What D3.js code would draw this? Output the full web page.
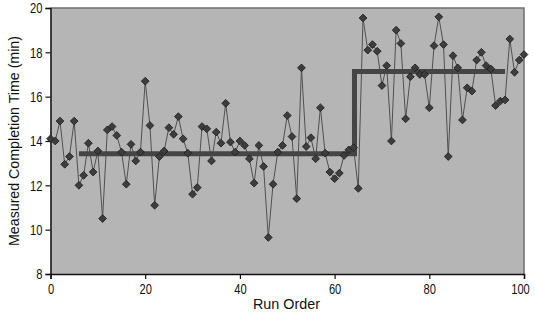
<!DOCTYPE html>
<html>
<head>
<meta charset="utf-8">
<script src="https://cdn.jsdelivr.net/npm/d3@7"></script>
<style>
  html, body { margin: 0; padding: 0; background: #fff; }
  svg { display: block; }
  text { font-family: "Liberation Sans", Arial, sans-serif; fill: #111; }
</style>
</head>
<body>
<svg id="chart" width="535" height="332"></svg>
<script>
// Measured completion time per run (run 0..100)
const runs = d3.range(0, 101);
const times = [
  14.1, 14.0, 14.9, 12.95, 13.3, 14.9, 12.0, 12.45, 13.9, 12.6,
  13.55, 10.5, 14.5, 14.65, 14.25, 13.5, 12.05, 13.85, 13.1, 13.5,
  16.7, 14.7, 11.1, 13.3, 13.55, 14.6, 14.3, 15.1, 14.1, 13.45,
  11.6, 11.9, 14.65, 14.55, 13.1, 14.4, 13.9, 15.7, 13.95, 13.5,
  14.0, 13.8, 13.2, 12.1, 13.8, 12.85, 9.65, 12.05, 13.5, 13.8,
  15.15, 14.2, 11.4, 17.3, 13.75, 14.15, 13.2, 15.5, 13.45, 12.6,
  12.3, 12.55, 13.35, 13.6, 13.7, 11.86, 19.55, 18.1, 18.35, 18.05,
  16.5, 17.4, 14.0, 19.0, 18.4, 15.0, 16.9, 17.3, 17.0, 17.0,
  15.5, 18.3, 19.6, 18.35, 13.3, 17.85, 17.3, 14.95, 16.4, 16.25,
  17.65, 18.0, 17.4, 17.25, 15.6, 15.8, 15.85, 18.6, 17.1, 17.65,
  17.9
];
// Step (mean) line
const stepRuns = [6, 64.2, 64.2, 96];
const stepMeans = [13.42, 13.42, 17.13, 17.13];
// Axis ticks
const xTicks = [0, 20, 40, 60, 80, 100];
const yTicks = [8, 10, 12, 14, 16, 18, 20];
const xTitle = "Run Order";
const yTitle = "Measured Completion Time (min)";

const svg = d3.select("#chart");
const margin = { left: 50.5, right: 11, top: 8, bottom: 58 };
const W = 535, H = 332;
const x = d3.scaleLinear().domain([0, 100]).range([margin.left, W - margin.right]);
const y = d3.scaleLinear().domain([8, 20]).range([H - margin.bottom, margin.top]);

// plot background
svg.append("rect")
  .attr("x", x(0)).attr("y", y(20))
  .attr("width", x(100) - x(0)).attr("height", y(8) - y(20))
  .attr("fill", "#b5b5b5");

// top & right border
svg.append("path")
  .attr("d", `M${x(0)},${y(20)}H${x(100)}V${y(8)}`)
  .attr("fill", "none").attr("stroke", "#6e6e6e").attr("stroke-width", 1.5);

// axes
const xAxis = d3.axisBottom(x).tickValues(xTicks).tickSize(5).tickPadding(4).tickFormat(d3.format("d"));
const yAxis = d3.axisLeft(y).tickValues(yTicks).tickSize(5).tickPadding(3).tickFormat(d3.format("d"));

const gx = svg.append("g").attr("transform", `translate(0,${y(8)})`).call(xAxis);
const gy = svg.append("g").attr("transform", `translate(${x(0)},0)`).call(yAxis);
[gx, gy].forEach(g => {
  g.select(".domain").attr("stroke", "#111").attr("stroke-width", 1.5);
  g.selectAll(".tick line").attr("stroke", "#111").attr("stroke-width", 1.2);
  g.selectAll(".tick text").attr("font-size", 15).attr("fill", "#111")
    .style("font-family", '"Liberation Sans", Arial, sans-serif')
    .attr("textLength", d => String(d).length * 6.2)
    .attr("lengthAdjust", "spacingAndGlyphs");
});
// keep the last x label inside the frame, as in the reference
gx.selectAll(".tick text").filter(d => d === 100).attr("dx", -4);

// data line
const pts = runs.map((r, i) => [r, times[i]]);
svg.append("path")
  .datum(pts)
  .attr("d", d3.line().x(d => x(d[0])).y(d => y(d[1])))
  .attr("fill", "none").attr("stroke", "#505050").attr("stroke-width", 1);

// step line
const stepPts = stepRuns.map((r, i) => [r, stepMeans[i]]);
svg.append("path")
  .datum(stepPts)
  .attr("d", d3.line().x(d => x(d[0])).y(d => y(d[1])))
  .attr("fill", "none").attr("stroke", "#454545").attr("stroke-width", 5)
  .attr("stroke-linejoin", "miter");

// markers
const sym = d3.symbol().type(d3.symbolSquare).size(30);
svg.append("g").selectAll("path").data(pts).join("path")
  .attr("d", sym)
  .attr("transform", d => `translate(${x(d[0])},${y(d[1])}) rotate(45)`)
  .attr("fill", "#3d3d3d").attr("stroke", "#1e1e1e").attr("stroke-width", 0.8);

// titles
svg.append("text")
  .attr("x", 286.5).attr("y", 309)
  .attr("text-anchor", "middle").attr("font-size", 15)
  .attr("textLength", 67).attr("lengthAdjust", "spacingAndGlyphs")
  .text(xTitle);
svg.append("text")
  .attr("transform", `translate(19,${(y(8) + y(20)) / 2}) rotate(-90)`)
  .attr("text-anchor", "middle").attr("font-size", 15)
  .attr("textLength", 210).attr("lengthAdjust", "spacingAndGlyphs")
  .text(yTitle);
</script>
</body>
</html>
